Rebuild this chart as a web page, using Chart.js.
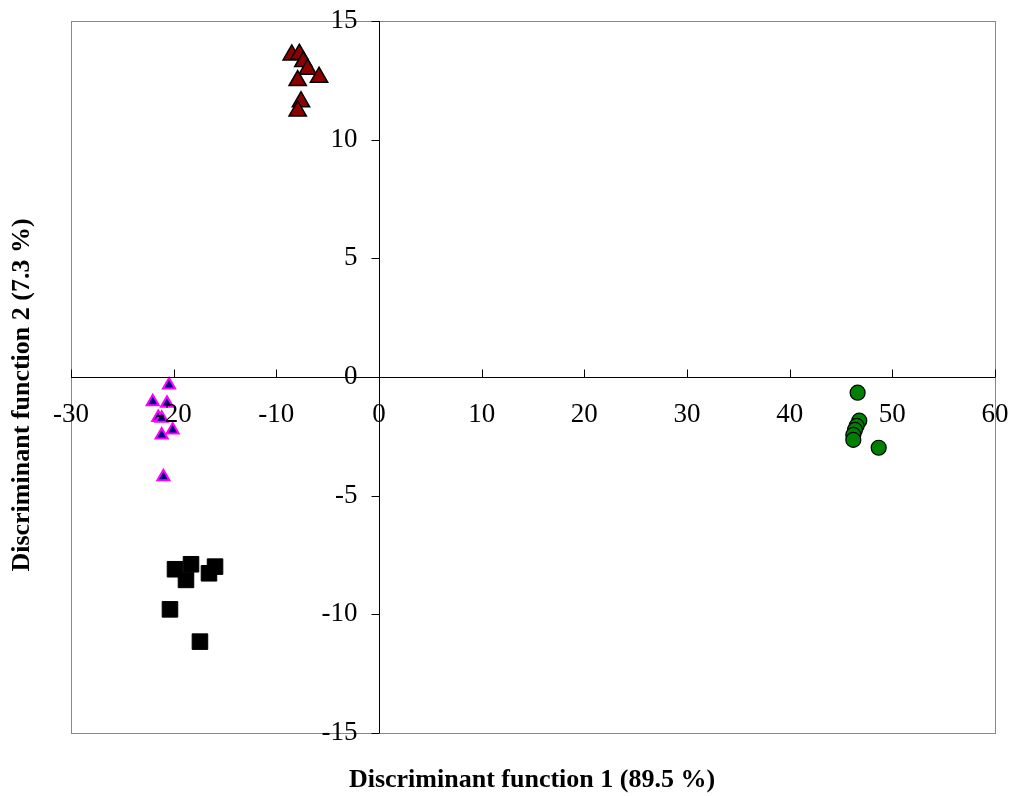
<!DOCTYPE html>
<html>
<head>
<meta charset="utf-8">
<script src="https://cdn.jsdelivr.net/npm/chart.js@4"></script>
<style>
  html, body { margin: 0; padding: 0; background: #fff; }
  #wrap { width: 1013px; height: 796px; }
</style>
</head>
<body>
<div id="wrap"><canvas id="c" width="1013" height="796"></canvas></div>
<script>
const redX = [-8.5, -7.76, -7.37, -6.95, -5.84, -7.92, -7.6, -7.92]
const redY = [13.57, 13.6, 13.29, 12.97, 12.63, 12.49, 11.6, 11.21]
const pinkX = [-20.45, -22.04, -20.65, -21.5, -21.17, -20.1, -21.17, -21.0]
const pinkY = [-0.34, -1.04, -1.11, -1.71, -1.74, -2.23, -2.44, -4.2]
const blackX = [-19.87, -18.31, -18.8, -15.97, -16.56, -20.36, -17.44]
const blackY = [-8.1, -7.89, -8.55, -7.99, -8.27, -9.79, -11.15]
const greenX = [46.62, 46.78, 46.52, 46.36, 46.2, 46.2, 48.67]
const greenY = [-0.66, -1.84, -2.06, -2.23, -2.44, -2.65, -2.98]
const xTicks = [-30, -20, -10, 0, 10, 20, 30, 40, 50, 60]
const yTicks = [-15, -10, -5, 0, 5, 10, 15]

const pts = (xs, ys) => xs.map((x, i) => ({x: x, y: ys[i]}))
const font = "Liberation Serif"

// frame, titles and tick labels, placed with the chart's own scales
const frame = {
  id: "frame",
  beforeDraw(chart) {
    const {ctx, chartArea: a} = chart
    ctx.save()
    ctx.strokeStyle = "#888"
    ctx.lineWidth = 1
    ctx.strokeRect(a.left + 0.5, a.top + 0.5, a.right - a.left, a.bottom - a.top)
    ctx.fillStyle = "#000"
    ctx.font = "bold 26px " + font
    ctx.textAlign = "center"
    ctx.textBaseline = "middle"
    ctx.fillText("Discriminant function 1 (89.5 %)", 532, 780)
    ctx.save()
    ctx.translate(22, 395)
    ctx.rotate(-Math.PI / 2)
    ctx.fillText("Discriminant function 2 (7.3 %)", 0, 0)
    ctx.restore()
  },
  afterDraw(chart) {
    const {ctx} = chart
    const sx = chart.scales.x, sy = chart.scales.y
    const x0 = Math.round(sx.getPixelForValue(0)) + 0.5
    const y0 = Math.round(sy.getPixelForValue(0)) + 0.5
    ctx.save()
    ctx.strokeStyle = "#000"
    ctx.lineWidth = 1
    ctx.beginPath()
    ctx.moveTo(sx.left, y0); ctx.lineTo(sx.right, y0)
    ctx.moveTo(x0, sy.top); ctx.lineTo(x0, sy.bottom)
    xTicks.forEach(v => {
      const px = Math.round(sx.getPixelForValue(v)) + 0.5
      ctx.moveTo(px, y0); ctx.lineTo(px, y0 - 8)
    })
    yTicks.forEach(v => {
      const py = Math.round(sy.getPixelForValue(v)) + 0.5
      ctx.moveTo(x0, py); ctx.lineTo(x0 - 8, py)
    })
    ctx.stroke()
    ctx.fillStyle = "#000"
    ctx.font = "27px " + font
    ctx.textBaseline = "middle"
    ctx.textAlign = "center"
    xTicks.forEach(v => ctx.fillText(String(v), sx.getPixelForValue(v), y0 + 37))
    ctx.textAlign = "right"
    yTicks.forEach(v => ctx.fillText(String(v), x0 - 22, sy.getPixelForValue(v)))
    ctx.restore()
  }
}

new Chart(document.getElementById("c"), {
  type: "scatter",
  data: {
    datasets: [
      {data: pts(redX, redY), pointStyle: "triangle", radius: 10, backgroundColor: "#8b0000", borderColor: "#000", borderWidth: 1.5},
      {data: pts(pinkX, pinkY), pointStyle: "triangle", radius: 7, backgroundColor: "#000080", borderColor: "#ff00ff", borderWidth: 2},
      {data: pts(blackX, blackY), pointStyle: "rect", radius: 11, backgroundColor: "#000", borderColor: "#000", borderWidth: 1},
      {data: pts(greenX, greenY), pointStyle: "circle", radius: 7.5, backgroundColor: "#008000", borderColor: "#000", borderWidth: 1.2}
    ]
  },
  options: {
    responsive: false,
    animation: false,
    layout: {padding: {left: 71, right: 18, top: 21, bottom: 63}},
    plugins: {legend: {display: false}, tooltip: {enabled: false}},
    scales: {
      x: {type: "linear", min: -30, max: 60, display: false},
      y: {type: "linear", min: -15, max: 15, display: false}
    }
  },
  plugins: [frame]
})
</script>
</body>
</html>
